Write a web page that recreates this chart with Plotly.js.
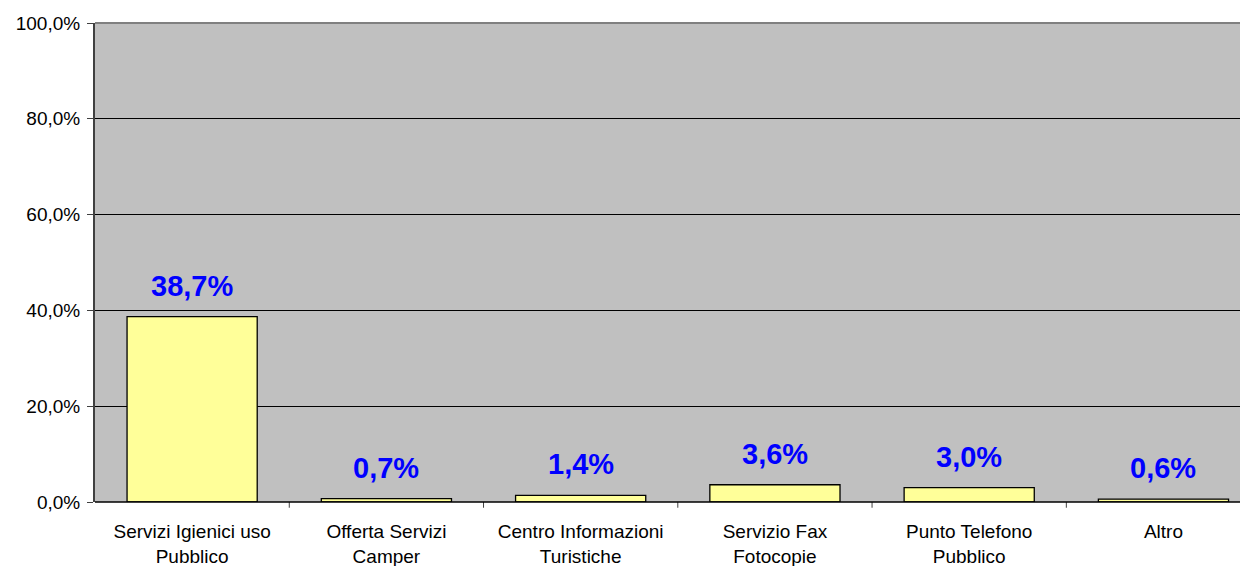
<!DOCTYPE html>
<html><head><meta charset="utf-8">
<script src="https://cdn.plot.ly/plotly-3.0.1.min.js"></script>
<style>html,body{margin:0;padding:0;background:#fff}#c{width:1240px;height:566px}</style>
</head><body><div id="c"></div>
<script>
const categories = ["Servizi Igienici uso<br>Pubblico","Offerta Servizi<br>Camper","Centro Informazioni<br>Turistiche","Servizio Fax<br>Fotocopie","Punto Telefono<br>Pubblico","Altro"];
const values = [38.7, 0.7, 1.4, 3.6, 3.0, 0.6];
const labels = ["38,7%","0,7%","1,4%","3,6%","3,0%","0,6%"];
const yTickVals = [0,20,40,60,80,100];
const yTickText = ["0,0%","20,0%","40,0%","60,0%","80,0%","100,0%"];

const xIdx = categories.map((_, i) => i);
const trace = {
  type: 'bar', x: xIdx, y: values, width: 0.67,
  marker: {color: '#FFFF99', line: {color: '#000', width: 1.3}},
  hoverinfo: 'none'
};
const annotations = xIdx.map((i) => ({
  x: i, y: values[i], xref: 'x', yref: 'y', text: '<b>' + labels[i] + '</b>',
  showarrow: false, yanchor: 'bottom', yshift: 13,
  font: {family: 'Liberation Sans, Arial, sans-serif', size: 29, color: '#0000FF'}
}));
const shapes = [
  {type:'line', xref:'paper', yref:'paper', x0:0, x1:1, y0:1, y1:1, line:{color:'#808080', width:2}}
];
const layout = {
  width: 1240, height: 566,
  margin: {l: 95, r: 0, t: 23, b: 64},
  paper_bgcolor: '#fff', plot_bgcolor: '#C0C0C0',
  font: {family: 'Liberation Sans, Arial, sans-serif', size: 19, color: '#000'},
  showlegend: false,
  bargap: 0.33,
  xaxis: {
    range: [-0.5, 5.394], tickvals: xIdx, ticktext: categories,
    showgrid: false, zeroline: false, showline: false,
    ticks: '', ticklabelstandoff: 16, fixedrange: true
  },
  yaxis: {
    range: [0, 100], tickvals: yTickVals, ticktext: yTickText,
    showgrid: true, gridcolor: '#000', gridwidth: 1,
    zeroline: false, showline: true, linecolor: '#404040', linewidth: 2,
    ticks: 'outside', ticklen: 6, tickcolor: '#404040', tickwidth: 1,
    ticklabelstandoff: 3, fixedrange: true
  },
  annotations: annotations,
  shapes: shapes.concat(
    xIdx.map(i => ({type:'line', xref:'x', yref:'paper', x0:i+0.5, x1:i+0.5, y0:0, y1:-0.012, line:{color:'#404040', width:1}})),
    [{type:'line', xref:'paper', yref:'paper', x0:0, x1:1, y0:0, y1:0, line:{color:'#000', width:1.5}}]
  )
};
Plotly.newPlot('c', [trace], layout, {displayModeBar: false, staticPlot: true});
</script></body></html>
